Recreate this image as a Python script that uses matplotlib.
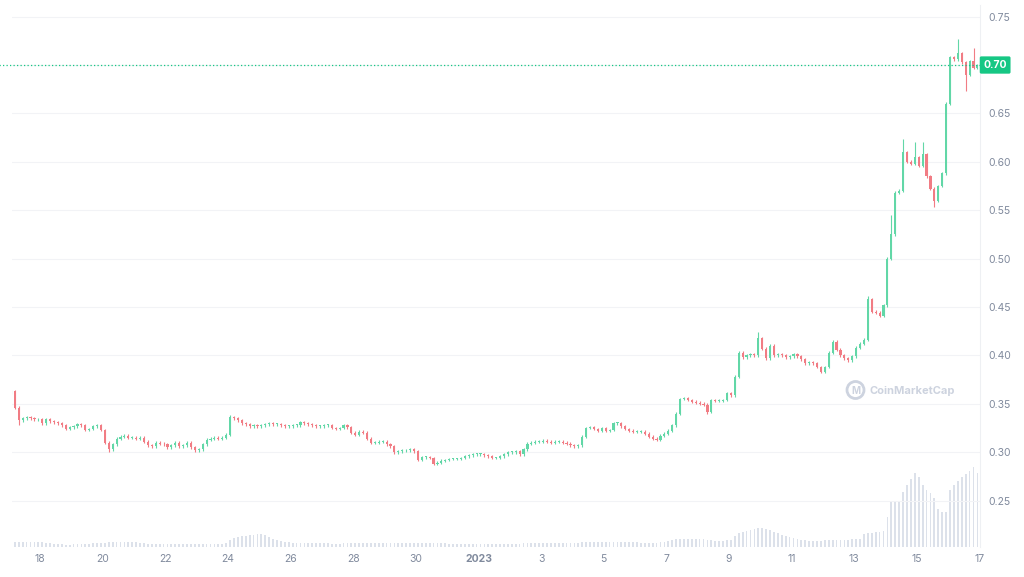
import pandas as pd
import numpy as np
import matplotlib
matplotlib.use('Agg')
import matplotlib.pyplot as plt
import matplotlib.dates as mdates
from matplotlib.patches import Circle

plt.rcParams['font.family'] = ['Inter', 'DejaVu Sans']

# 3-hour candles, 17 Dec 2022 -> 17 Jan 2023 (closes)
closes = [
    0.363, 0.346, 0.333, 0.335, 0.336, 0.335, 0.334, 0.334,   # Dec 17
    0.330, 0.334, 0.332, 0.331, 0.330, 0.328, 0.324, 0.326,   # Dec 18
    0.327, 0.329, 0.328, 0.323, 0.324, 0.327, 0.328, 0.323,   # Dec 19
    0.310, 0.303, 0.308, 0.314, 0.316, 0.317, 0.315, 0.315,   # Dec 20
    0.314, 0.315, 0.311, 0.307, 0.306, 0.310, 0.309, 0.308,   # Dec 21
    0.305, 0.307, 0.310, 0.306, 0.307, 0.310, 0.305, 0.302,   # Dec 22
    0.303, 0.308, 0.313, 0.314, 0.315, 0.314, 0.315, 0.318,   # Dec 23
    0.336, 0.335, 0.333, 0.330, 0.329, 0.327, 0.328, 0.327,   # Dec 24
    0.328, 0.329, 0.330, 0.329, 0.329, 0.328, 0.327, 0.327,   # Dec 25
    0.328, 0.328, 0.331, 0.330, 0.329, 0.328, 0.327, 0.327,   # Dec 26
    0.328, 0.328, 0.325, 0.324, 0.325, 0.328, 0.326, 0.320,   # Dec 27
    0.318, 0.321, 0.320, 0.314, 0.310, 0.310, 0.311, 0.311,   # Dec 28
    0.308, 0.306, 0.300, 0.301, 0.302, 0.302, 0.303, 0.301,   # Dec 29
    0.292, 0.295, 0.295, 0.294, 0.288, 0.289, 0.291, 0.292,   # Dec 30
    0.293, 0.293, 0.293, 0.294, 0.296, 0.297, 0.298, 0.298,   # Dec 31
    0.298, 0.297, 0.296, 0.294, 0.294, 0.296, 0.298, 0.300,   # Jan 1
    0.300, 0.301, 0.298, 0.303, 0.309, 0.310, 0.311, 0.311,   # Jan 2
    0.312, 0.311, 0.310, 0.311, 0.311, 0.310, 0.309, 0.307,   # Jan 3
    0.306, 0.307, 0.316, 0.325, 0.326, 0.324, 0.322, 0.325,   # Jan 4
    0.322, 0.323, 0.330, 0.330, 0.327, 0.324, 0.322, 0.321,   # Jan 5
    0.321, 0.321, 0.319, 0.316, 0.314, 0.313, 0.317, 0.319,   # Jan 6
    0.322, 0.328, 0.340, 0.355, 0.356, 0.354, 0.352, 0.351,   # Jan 7
    0.350, 0.349, 0.342, 0.354, 0.353, 0.353, 0.354, 0.361,   # Jan 8
    0.359, 0.378, 0.403, 0.398, 0.400, 0.401, 0.400, 0.418,   # Jan 9
    0.407, 0.397, 0.410, 0.400, 0.401, 0.400, 0.398, 0.399,   # Jan 10
    0.401, 0.399, 0.396, 0.392, 0.393, 0.392, 0.388, 0.383,   # Jan 11
    0.388, 0.403, 0.414, 0.406, 0.400, 0.397, 0.395, 0.399,   # Jan 12
    0.408, 0.412, 0.416, 0.458, 0.445, 0.444, 0.441, 0.452,   # Jan 13
    0.500, 0.525, 0.568, 0.570, 0.610, 0.600, 0.598, 0.605,   # Jan 14
    0.596, 0.608, 0.585, 0.572, 0.560, 0.575, 0.588, 0.660,   # Jan 15
    0.708, 0.706, 0.712, 0.703, 0.690, 0.704, 0.697, 0.700,   # Jan 16
]
first_open = 0.362

# long wicks (candle index -> value)
spike_highs = {56: 0.338, 191: 0.424, 219: 0.461, 225: 0.545, 228: 0.624,
               231: 0.620, 233: 0.620, 242: 0.727, 246: 0.718}
spike_lows = {2: 0.328, 25: 0.300, 108: 0.287, 178: 0.340, 236: 0.553, 244: 0.673}

# volume (millions), same 3-hour buckets
volume = [
    4, 5, 5, 5, 5, 5, 5, 5,
    5, 4.5, 4, 3.5, 3, 3, 2.5, 2.5,
    3, 3, 3, 3.5, 3.5, 4, 4, 4.5,
    4.5, 5, 5, 5, 5, 5, 5, 5,
    5, 4.5, 4, 3.5, 3.5, 3.5, 3.5, 3.5,
    3.5, 3.5, 3.5, 3.5, 3.5, 3.5, 3.5, 3.5,
    3.5, 3.5, 3.5, 3.5, 3.5, 3.5, 3.5, 4,
    7, 9, 10, 11, 11.5, 12, 12.5, 13,
    13, 12, 10, 8, 7, 6, 5.5, 5,
    4.5, 4.5, 4.5, 4.5, 4.5, 4.5, 4.5, 4.5,
    4, 4, 3.5, 3.5, 3.5, 4, 4, 4,
    4.5, 4.5, 4.5, 4.5, 4.5, 4.5, 4.5, 4.5,
    4.5, 4.5, 4.5, 4.5, 4, 4, 4.5, 4.5,
    4.5, 4.5, 4, 4, 4.5, 4.5, 4, 4,
    3.5, 3.5, 3.5, 3.5, 3, 3, 3, 3,
    3, 3, 3, 3, 3, 3, 3, 3,
    3, 3, 3.5, 4, 4, 4.5, 4.5, 4.5,
    4, 4, 4, 4, 4, 4, 4, 4,
    4, 4, 5, 5, 5, 5, 5, 5,
    5, 5.5, 5.5, 5.5, 5.5, 5.5, 5, 5,
    5, 4.5, 4, 4, 4, 4.5, 5, 5,
    6, 7, 8, 8, 8, 8, 8, 8,
    8, 8, 7, 7, 6.5, 6.5, 6.5, 7,
    7.5, 11, 14, 15, 16, 17, 18, 19,
    19, 18, 17, 15.5, 14, 12.5, 11, 10,
    9, 8, 7.5, 7, 6.5, 6.5, 6.5, 6.5,
    7, 7, 7, 7, 7, 7.5, 7.5, 8,
    8, 8, 13, 14, 14, 15, 15, 16,
    30, 45, 45, 46, 55, 62, 68, 74,
    70, 62, 57, 54, 49, 38, 35, 35,
    57, 62, 66, 70, 73, 76, 80, 74,
]

tick_dates = ['2022-12-18', '2022-12-20', '2022-12-22', '2022-12-24', '2022-12-26',
              '2022-12-28', '2022-12-30', '2023-01-01', '2023-01-03', '2023-01-05',
              '2023-01-07', '2023-01-09', '2023-01-11', '2023-01-13', '2023-01-15',
              '2023-01-17']
tick_labels = ['18', '20', '22', '24', '26', '28', '30', '2023', '3', '5', '7', '9',
               '11', '13', '15', '17']
price_ticks = [0.25, 0.30, 0.35, 0.40, 0.45, 0.50, 0.55, 0.60, 0.65, 0.70, 0.75]
last_price = 0.70

green = '#16c784'
up_col = '#62d7a7'
dn_col = '#f17c84'
grey_txt = '#808a9d'

t0 = pd.Timestamp('2022-12-17 00:00')
times = pd.date_range(t0, periods=len(closes), freq='3h') + pd.Timedelta(hours=1.5)
x = mdates.date2num(times)
opens = [first_open] + closes[:-1]

fig = plt.figure(figsize=(10.24, 5.77), dpi=100)
ax = fig.add_axes([12 / 1024, 30 / 577, 968 / 1024, 542 / 577])
ax2 = ax.twinx()

# volume behind
ax2.bar(x, volume, width=0.125 * 0.45, color='#dce1ea', linewidth=0)
ax2.set_ylim(0, 542)
ax2.set_yticks([])
for s in ax2.spines.values():
    s.set_visible(False)
ax.set_zorder(ax2.get_zorder() + 1)
ax.patch.set_visible(False)

# candles
w = 0.125 * 0.55
for i in range(len(closes)):
    o, c = opens[i], closes[i]
    col = up_col if c >= o else dn_col
    hi = spike_highs.get(i, max(o, c) + 0.0015)
    lo = spike_lows.get(i, min(o, c) - 0.0015)
    ax.vlines(x[i], lo, hi, color=col, lw=0.8, zorder=3)
    h = max(abs(c - o), 0.0008)
    ax.bar(x[i], h, bottom=min(o, c), width=w, color=col, linewidth=0, zorder=4)

ax.axhline(last_price, xmin=-0.013, xmax=1, color=green, lw=0.9,
           ls=(0, (1, 1.8)), clip_on=False, zorder=5)

ax.set_xlim(mdates.date2num(t0 + pd.Timedelta(days=0.096)),
            mdates.date2num(t0 + pd.Timedelta(days=31.02)))
ax.set_ylim(0.2021, 0.762)

ax.yaxis.tick_right()
ax.set_yticks(price_ticks)
# the 0.70 label is covered by the last-price tag
ax.set_yticklabels(['' if v == last_price else '%.2f' % v for v in price_ticks])
ax.tick_params(axis='y', length=0, pad=6, labelsize=7.5, labelcolor=grey_txt)
ax.set_xticks(mdates.date2num(pd.to_datetime(tick_dates)))
ax.set_xticklabels(tick_labels)
ax.tick_params(axis='x', length=0, pad=5, labelsize=7.5, labelcolor=grey_txt)
for lab in ax.get_xticklabels():
    if lab.get_text() == '2023':
        lab.set_fontweight('bold')

ax.grid(axis='y', color='#f2f3f6', lw=0.8)
ax.set_axisbelow(True)
for k in ['top', 'left', 'bottom']:
    ax.spines[k].set_visible(False)
ax.spines['right'].set_color('#eef0f3')
ax.spines['right'].set_linewidth(0.8)

# last price tag
ax.text(1.0035, last_price, '%.2f' % last_price, transform=ax.get_yaxis_transform(),
        ha='left', va='center', fontsize=7.5, fontweight='bold', color='white',
        bbox=dict(boxstyle='round,pad=0.35,rounding_size=0.15', fc=green, ec='none'),
        zorder=6, clip_on=False)

# watermark
wm = '#cdd3df'
fig.patches.append(Circle((8.555, 1.87), 0.085, transform=fig.dpi_scale_trans,
                          fill=False, ec=wm, lw=2))
fig.text(855.5 / 1024, 1 - 390.5 / 577, 'M', ha='center', va='center', fontsize=7,
         fontweight='bold', color=wm)
fig.text(869 / 1024, 1 - 391 / 577, 'CoinMarketCap', ha='left', va='center',
         fontsize=8, fontweight='bold', color=wm)

plt.savefig('out.png', dpi=100)
